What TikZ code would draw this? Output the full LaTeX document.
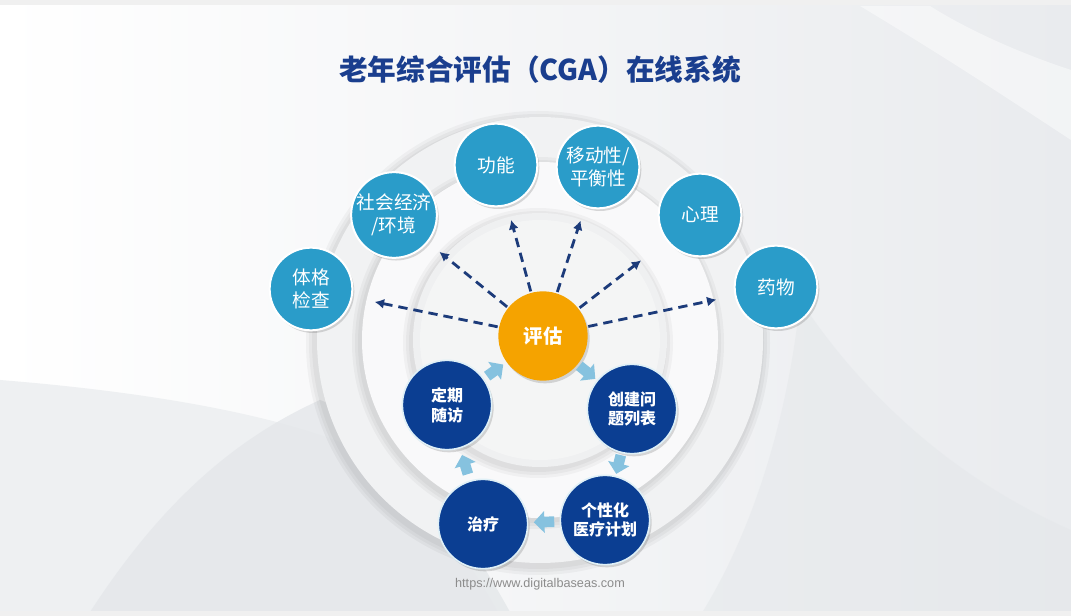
\documentclass[tikz,border=0pt]{standalone}
\usepackage{fontspec}
\newfontfamily\cjk{Noto Sans CJK SC}
\newfontfamily\arialf{Liberation Sans}
\usetikzlibrary{arrows.meta}
\definecolor{titleblue}{HTML}{1A3E8E}
\definecolor{cyanb}{HTML}{2A9CC9}
\definecolor{navyb}{HTML}{0B3E92}
\definecolor{orng}{HTML}{F5A300}
\definecolor{dashc}{HTML}{1C3B7A}
\definecolor{blockc}{HTML}{86C2DF}
\definecolor{urlgray}{HTML}{8C8C8C}
\definecolor{bgright}{HTML}{E9EBEE}
\definecolor{bgmid}{HTML}{F7F8F9}
\definecolor{bggray}{HTML}{E4E7EA}
\definecolor{bglight}{HTML}{EEF0F2}
\definecolor{ringa}{HTML}{F1F2F3}
\definecolor{ringb}{HTML}{F9F9FA}
\definecolor{ringc}{HTML}{EFF0F1}
\begin{document}
\begin{tikzpicture}[x=0.75pt,y=-0.75pt,
  shadowed/.style={preaction={fill=black, fill opacity=0.14, draw=none,
      transform canvas={xshift=1.5pt,yshift=-2pt}}},
  outernode/.style={circle, shadowed, fill=cyanb, draw=white, line width=1.5pt,
      minimum size=62pt, inner sep=0pt, text=white, align=center,
      font=\cjk\fontsize{14}{17.5}\selectfont},
  darknode/.style={circle, shadowed, fill=navyb, draw=white!85!cyanb, line width=1.2pt,
      minimum size=67pt, inner sep=0pt, text=white, align=center,
      font=\cjk\bfseries\fontsize{12}{14.8}\selectfont},
  evalnode/.style={circle, shadowed, fill=orng, draw=none,
      minimum size=67pt, inner sep=0pt, text=white, align=center,
      font=\cjk\bfseries\fontsize{14.5}{17}\selectfont},
  dasharrow/.style={draw=dashc, line width=2.1pt, dash pattern=on 7pt off 4.5pt,
      -{Latex[length=7pt,width=7.5pt]}, shorten <=1pt},
  cycarrow/.style={draw=blockc, line width=8pt, -{Triangle[length=8pt,width=16pt]}},
  ringshadow/.style={fill=black, fill opacity=0.035, draw=none}
]
\useasboundingbox (0,0) rectangle (1071,616);
% ---------- background ----------
\shade[left color=white, middle color=bgmid, right color=bgright] (0,0) rectangle (1071,616);
\fill[white, fill opacity=0.45] (860,6) .. controls (950,60) and (1010,100) .. (1071,140)
   -- (1071,70) .. controls (1010,50) and (960,25) .. (930,6) -- cycle;
\fill[bggray, fill opacity=0.5] (800,300) .. controls (880,420) and (980,490) .. (1071,530)
   -- (1071,616) -- (700,616) .. controls (760,520) and (790,400) .. (800,300) -- cycle;
\fill[bglight] (0,380) .. controls (150,392) and (280,415) .. (360,450)
   .. controls (420,490) and (470,560) .. (500,616) -- (0,616) -- cycle;
\fill[bggray, fill opacity=0.8] (90,612) .. controls (150,520) and (220,445) .. (320,400)
   .. controls (400,430) and (470,540) .. (510,612) -- cycle;
\fill[black!6] (0,0) rectangle (1071,5);
\fill[black!6] (0,611) rectangle (1071,616);
% ---------- rings ----------
\foreach \r in {232,229,226}{\fill[ringshadow] (538,343) circle[radius=\r];}
\fill[ringa] (540,340) circle[radius=223];
\foreach \r in {186,183,180}{\fill[ringshadow] (538,343) circle[radius=\r];}
\fill[ringb] (540,340) circle[radius=178];
\foreach \r in {135,132,129}{\fill[ringshadow] (538,343) circle[radius=\r];}
\fill[ringc] (540,340) circle[radius=127];
\fill[white, fill opacity=0.35] (540,340) circle[radius=120];
% ---------- title ----------
\node[font=\cjk\bfseries\fontsize{21.5}{26}\selectfont, text=titleblue] (title) at (540,70)
   {老年综合评估（CGA）在线系统};
% ---------- nodes ----------
\node[outernode] (tige) at (311,289) {体格\\检查};
\node[outernode] (shehui) at (394,215) {社会经济\\/环境};
\node[outernode] (gongneng) at (496,165) {功能};
\node[outernode] (yidong) at (598,167) {移动性/\\平衡性};
\node[outernode] (xinli) at (700,215) {心理};
\node[outernode] (yaowu) at (776,287) {药物};
\node[evalnode] (pinggu) at (543,336) {评估};
\node[darknode] (chuangjian) at (632,409) {创建问\\题列表};
\node[darknode] (gexing) at (605,520) {个性化\\医疗计划};
\node[darknode] (zhiliao) at (483,524) {治疗};
\node[darknode] (dingqi) at (447,405) {定期\\随访};
% ---------- dashed arrows ----------
\draw[dasharrow, shorten >=17pt] (pinggu) -- (tige);
\draw[dasharrow, shorten >=11pt] (pinggu) -- (shehui);
\draw[dasharrow, shorten >=11pt] (pinggu) -- (gongneng);
\draw[dasharrow, shorten >=10.5pt] (pinggu) -- (yidong);
\draw[dasharrow, shorten >=24pt] (pinggu) -- (xinli);
\draw[dasharrow, shorten >=14pt] (pinggu) -- (yaowu);
% ---------- cycle arrows ----------
\draw[cycarrow, shorten <=1.5pt, shorten >=1.5pt] (pinggu) -- (chuangjian);
\draw[cycarrow, shorten <=1.5pt, shorten >=1.5pt] (chuangjian) -- (gexing);
\draw[cycarrow, shorten <=4pt, shorten >=4pt] (gexing) -- (zhiliao);
\draw[cycarrow, shorten <=5pt, shorten >=5pt] (zhiliao) -- (dingqi);
\draw[cycarrow, shorten <=3pt, shorten >=3pt] (dingqi) -- (pinggu);
% ---------- url ----------
\node[font=\arialf\fontsize{9.5}{11}\selectfont, text=urlgray] (url) at (540,584)
   {https://www.digitalbaseas.com};
\end{tikzpicture}
\end{document}
